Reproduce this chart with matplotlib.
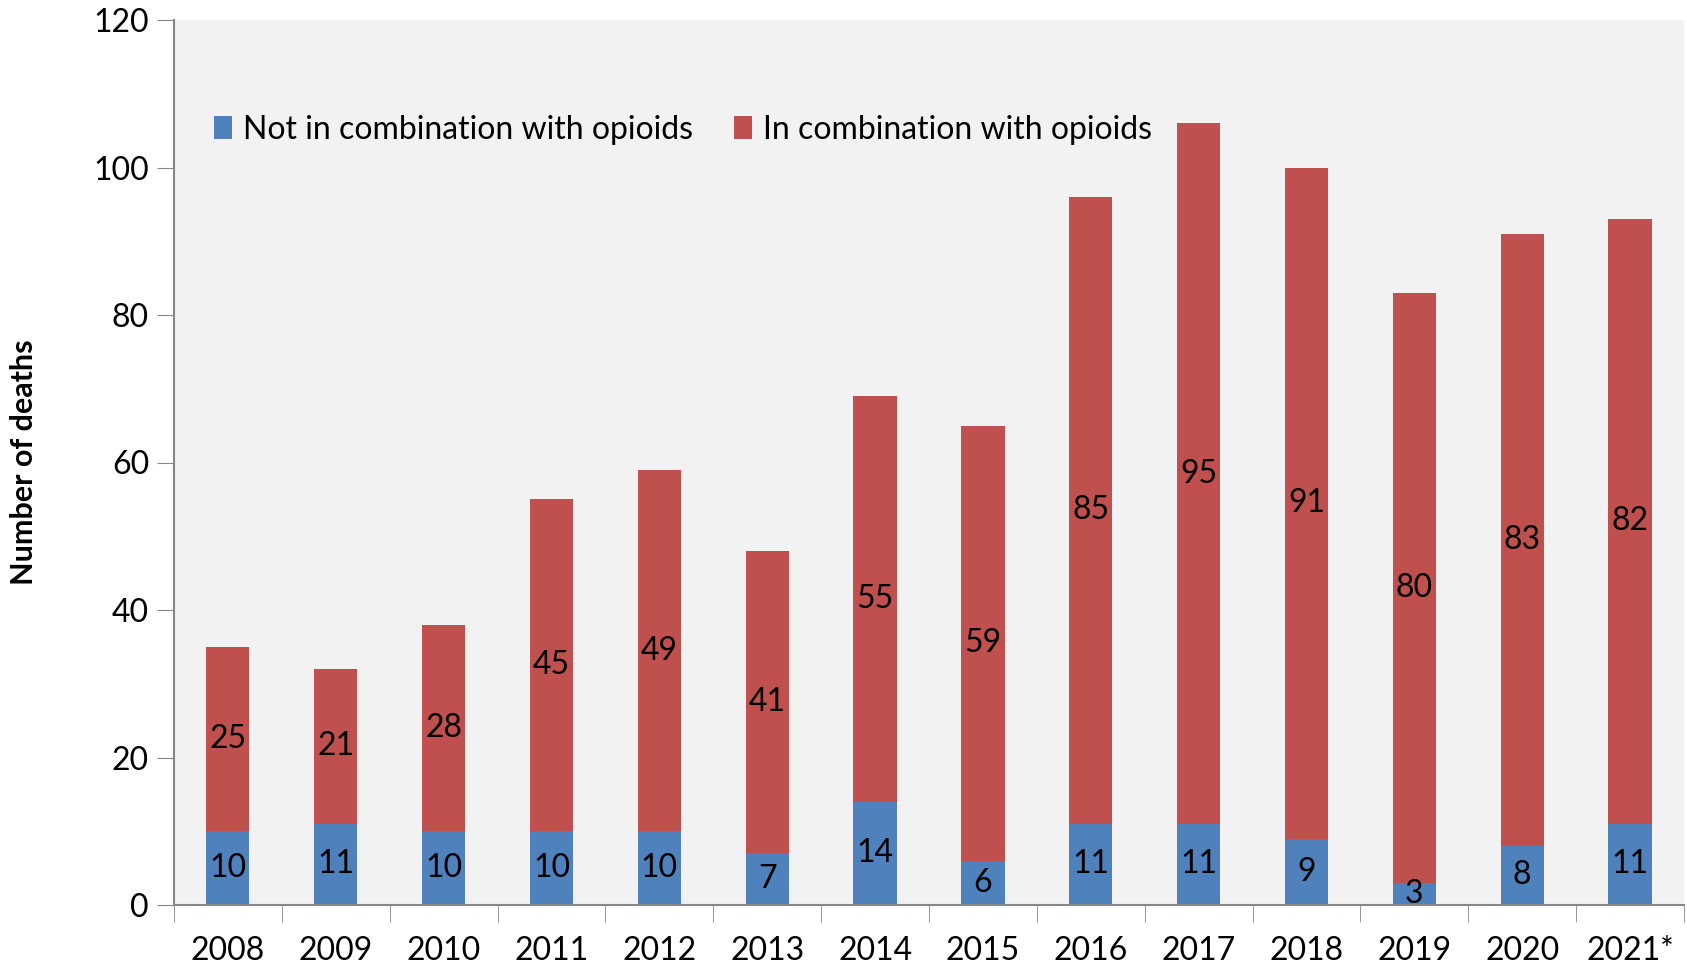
import numpy as np
import matplotlib.pyplot as plt

years = ['2008', '2009', '2010', '2011', '2012', '2013', '2014', '2015',
         '2016', '2017', '2018', '2019', '2020', '2021*']
not_opioids = [10, 11, 10, 10, 10, 7, 14, 6, 11, 11, 9, 3, 8, 11]
with_opioids = [25, 21, 28, 45, 49, 41, 55, 59, 85, 95, 91, 80, 83, 82]

plt.rcParams['font.family'] = ['Lato', 'DejaVu Sans']

fig = plt.figure(figsize=(16.87, 9.64), dpi=100)
ax = fig.add_axes([174 / 1687, 1 - 905 / 964, (1684 - 174) / 1687, (905 - 20) / 964])
ax.set_facecolor('#F2F2F2')

x = np.arange(len(years))
w = 0.4
ax.bar(x, not_opioids, w, color='#4F81BD', label='Not in combination with opioids', zorder=2)
ax.bar(x, with_opioids, w, bottom=not_opioids, color='#C0504D',
       label='In combination with opioids', zorder=2)

# segment labels in the middle of each piece
for i in range(len(years)):
    ax.text(x[i], not_opioids[i] / 2, str(not_opioids[i]), ha='center', va='center',
            fontsize=23, zorder=3)
    ax.text(x[i], not_opioids[i] + with_opioids[i] / 2, str(with_opioids[i]),
            ha='center', va='center', fontsize=23, zorder=3)

ax.set_xlim(-0.5, len(years) - 0.5)
ax.set_ylim(0, 120)
ax.set_yticks(range(0, 121, 20))
ax.tick_params(axis='y', labelsize=23, length=12, color='#868686', pad=6)

ax.set_xticks(x)
ax.set_xticklabels(years)
ax.set_xticks(np.arange(-0.5, len(years)), minor=True)
ax.tick_params(axis='x', which='major', length=0, labelsize=23, pad=22)
ax.tick_params(axis='x', which='minor', length=12, color='#868686')

for s in ['top', 'right']:
    ax.spines[s].set_visible(False)
for s in ['left', 'bottom']:
    ax.spines[s].set_color('#868686')
    ax.spines[s].set_linewidth(1.5)

ax.set_ylabel('Number of deaths', fontsize=22, fontweight='bold', labelpad=40)

ax.legend(loc='center left', bbox_to_anchor=(0.018, 0.876), ncol=2, frameon=False,
          fontsize=23, handlelength=0.55, handleheight=0.7, handletextpad=0.35,
          columnspacing=1.3, borderaxespad=0)

fig.savefig('out.png', dpi=100)
